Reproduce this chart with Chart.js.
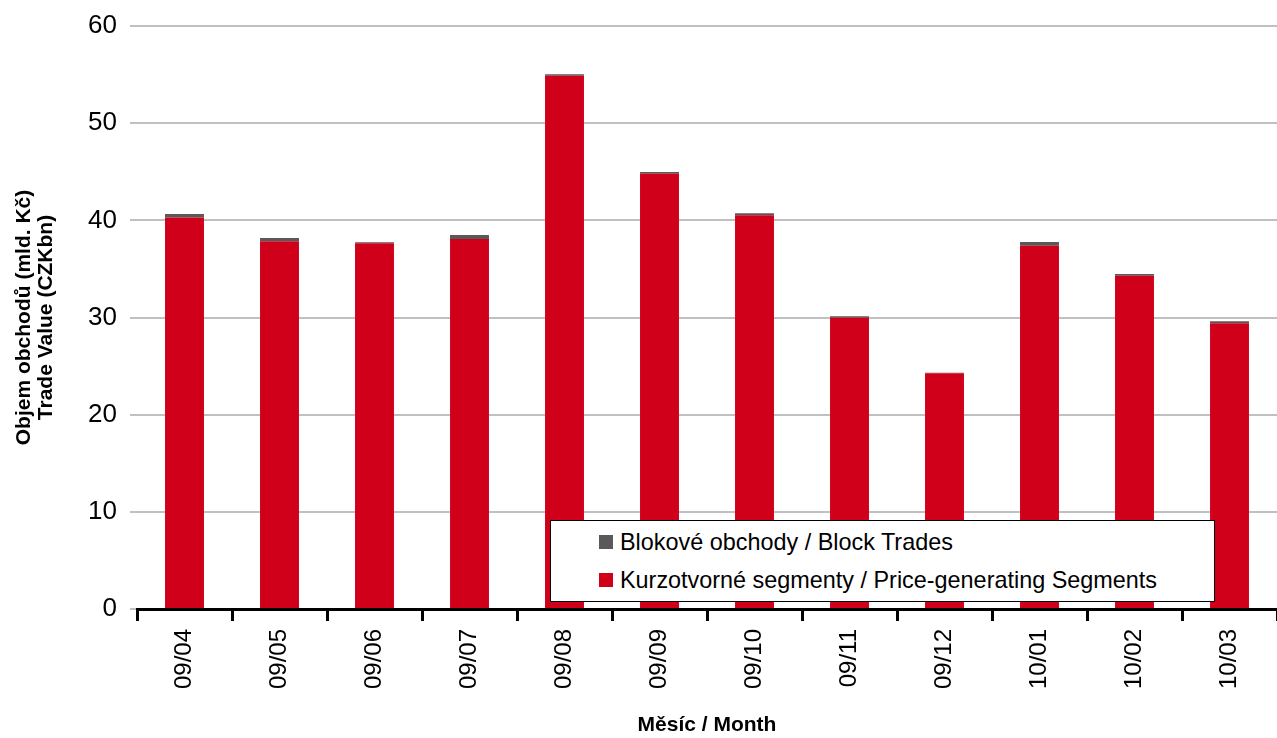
<!DOCTYPE html>
<html>
<head>
<meta charset="utf-8">
<script src="https://cdn.jsdelivr.net/npm/chart.js@4/dist/chart.umd.min.js"></script>
<style>
  html, body { margin: 0; padding: 0; background: #fff; }
  #wrap { position: relative; width: 1277px; height: 738px; }
  #legend {
    position: absolute; left: 550px; top: 520px; width: 663px; height: 80px;
    border: 1px solid #000; background: #fff;
    font-family: "Liberation Sans", Arial, sans-serif; font-size: 23.4px; color: #000;
  }
  .row { position: absolute; left: 48px; height: 28px; display: flex; align-items: center; white-space: nowrap; }
  .sw { width: 14px; height: 14px; margin-right: 7px; }
</style>
</head>
<body>
<div id="wrap">
  <canvas id="c" width="1277" height="738"></canvas>
  <div id="legend">
    <div class="row" style="top:7px"><span class="sw" style="background:#595959"></span><span>Blokové obchody / Block Trades</span></div>
    <div class="row" style="top:45px"><span class="sw" style="background:#d0001b"></span><span>Kurzotvorné segmenty / Price-generating Segments</span></div>
  </div>
</div>
<script>
const months = ['09/04','09/05','09/06','09/07','09/08','09/09','09/10','09/11','09/12','10/01','10/02','10/03'];
const priceGenerating = [40.3, 37.86, 37.65, 38.07, 54.87, 44.8, 40.53, 29.97, 24.25, 37.38, 34.29, 29.42];
const blockTrades = [0.36, 0.31, 0.1, 0.41, 0.17, 0.17, 0.2, 0.17, 0.07, 0.38, 0.18, 0.2];
const yTicks = [0, 10, 20, 30, 40, 50, 60];

const FONT = '"Liberation Sans", Arial, sans-serif';

new Chart(document.getElementById('c'), {
  type: 'bar',
  data: {
    labels: months,
    datasets: [
      { label: 'Kurzotvorné segmenty / Price-generating Segments', data: priceGenerating, backgroundColor: '#d0001b', barPercentage: 0.41, categoryPercentage: 1 },
      { label: 'Blokové obchody / Block Trades', data: blockTrades, backgroundColor: '#595959', barPercentage: 0.41, categoryPercentage: 1 }
    ]
  },
  options: {
    responsive: false,
    animation: false,
    layout: { padding: { top: 26, right: 0, left: 0, bottom: 0 } },
    plugins: { legend: { display: false }, tooltip: { enabled: false } },
    scales: {
      x: {
        stacked: true,
        offset: true,
        grid: { offset: true, drawOnChartArea: false, color: '#000', lineWidth: 3, tickLength: 12, tickWidth: 3 },
        border: { display: true, color: '#000', width: 3 },
        ticks: { font: { family: FONT, size: 24 }, color: '#000', minRotation: 90, maxRotation: 90, padding: 8, autoSkip: false },
        title: { display: true, text: 'Měsíc / Month', font: { family: FONT, size: 21, weight: 'bold' }, color: '#000', padding: { top: 0, bottom: 0 } },
        afterFit: s => { s.height = 129; }
      },
      y: {
        stacked: true,
        min: 0, max: 60,
        afterBuildTicks: s => { s.ticks = yTicks.map(v => ({ value: v })); },
        grid: { color: '#c0c0c0', lineWidth: 2, tickLength: 7 },
        border: { display: false },
        ticks: { font: { family: FONT, size: 26, lineHeight: 1 }, color: '#000', padding: 13 },
        title: { display: true, text: ['Objem obchodů (mld. Kč)', 'Trade Value (CZKbn)'], font: { family: FONT, size: 21, weight: 'bold', lineHeight: 1.05 }, color: '#000', padding: { top: 13, bottom: 0 } },
        afterFit: s => { s.width = 137; }
      }
    }
  }
});
</script>
</body>
</html>
